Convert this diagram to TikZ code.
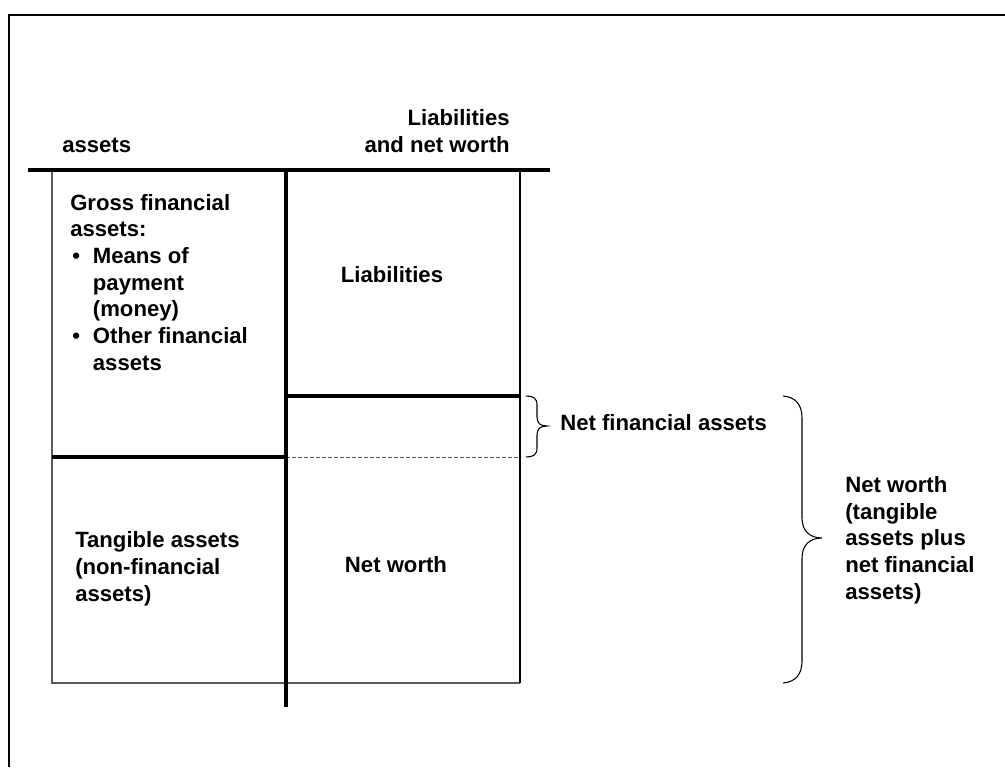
\documentclass[tikz,border=0pt]{standalone}
\usepackage{fontspec}
\setmainfont{Liberation Sans}
\definecolor{thingray}{RGB}{90,90,90}
\begin{document}
\begin{tikzpicture}[x=0.75pt,y=-0.75pt,
  lbl/.style={font=\fontsize{16.6}{20}\selectfont\bfseries, inner sep=0pt, align=left},
  heavy/.style={line width=2.6pt},
  framestyle/.style={line width=1.5pt},
  fine/.style={line width=0.9pt, draw=thingray},
  finedark/.style={line width=0.8pt, draw=black},
  dashline/.style={line width=0.6pt, draw=thingray, dash pattern=on 3pt off 1.5pt},
  bracestyle/.style={line width=0.8pt, draw=black}
]
\useasboundingbox (0,0) rectangle (1005,767);
% outer frame (top and left sides)
\coordinate (fbl) at (9,767);
\coordinate (ftl) at (9,15);
\coordinate (ftr) at (1005,15);
\draw[framestyle] (fbl) -- (ftl) -- (ftr);

% key coordinates of the balance sheet
\coordinate (hl) at (28,170);
\coordinate (hr) at (550,170);
\coordinate (lt) at (52,170);
\coordinate (lb) at (52,683);
\coordinate (mt) at (286,170);
\coordinate (mb) at (286,707);
\coordinate (rt) at (520,170);
\coordinate (rb) at (520,683);
\coordinate (ml) at (52,457);
\coordinate (mm) at (286,457);
\coordinate (mr) at (520,457);
\coordinate (nl) at (286,396);
\coordinate (nr) at (519,396);

% thin outer lines
\draw[fine] (lt) -- (lb) -- (rb);
\draw[finedark] (rt) -- (rb);
% dashed divider
\draw[dashline] (mm) -- (mr);
% thick lines
\draw[heavy] (ml) -- (mm);
\draw[heavy] (nl) -- (nr);
\draw[heavy] (mt) -- (mb);
\draw[heavy] (hl) -- (hr);

% small brace
\draw[bracestyle] (526,396) .. controls (533,396) and (537,398) .. (537,405)
  -- (537,417) .. controls (537,423) and (540,426) .. (547,426)
  .. controls (540,426) and (537,429) .. (537,435)
  -- (537,448) .. controls (537,455) and (533,457) .. (526,457);

% large brace
\draw[bracestyle] (783,396) .. controls (795,397) and (802,404) .. (802,418)
  -- (802,518) .. controls (802,531) and (810,538) .. (822,538)
  .. controls (810,538) and (802,545) .. (802,558)
  -- (802,661) .. controls (802,675) and (795,682) .. (783,683);

% texts (base anchor = baseline of the last line)
\node[lbl, anchor=base west] (assets) at (62,152) {assets};
\node[lbl, align=right, anchor=base east] (lnw) at (510,152) {Liabilities\\and net worth};
\node[lbl, anchor=base west] (gross) at (70,370) {Gross financial\\assets:\\\makebox[17pt][l]{\hspace{1.5pt}•}Means of\\\hspace*{17pt}payment\\\hspace*{17pt}(money)\\\makebox[17pt][l]{\hspace{1.5pt}•}Other financial\\\hspace*{17pt}assets};
\node[lbl, anchor=base] (liab) at (392,282) {Liabilities};
\node[lbl, anchor=base west] (tang) at (75,601) {Tangible assets\\(non-financial\\assets)};
\node[lbl, anchor=base] (nw) at (396,572) {Net worth};
\node[lbl, anchor=base west] (nfa) at (560,430) {Net financial assets};
\node[lbl, anchor=base west] (nwt) at (845,599) {Net worth\\(tangible\\assets plus\\net financial\\assets)};
\end{tikzpicture}
\end{document}
